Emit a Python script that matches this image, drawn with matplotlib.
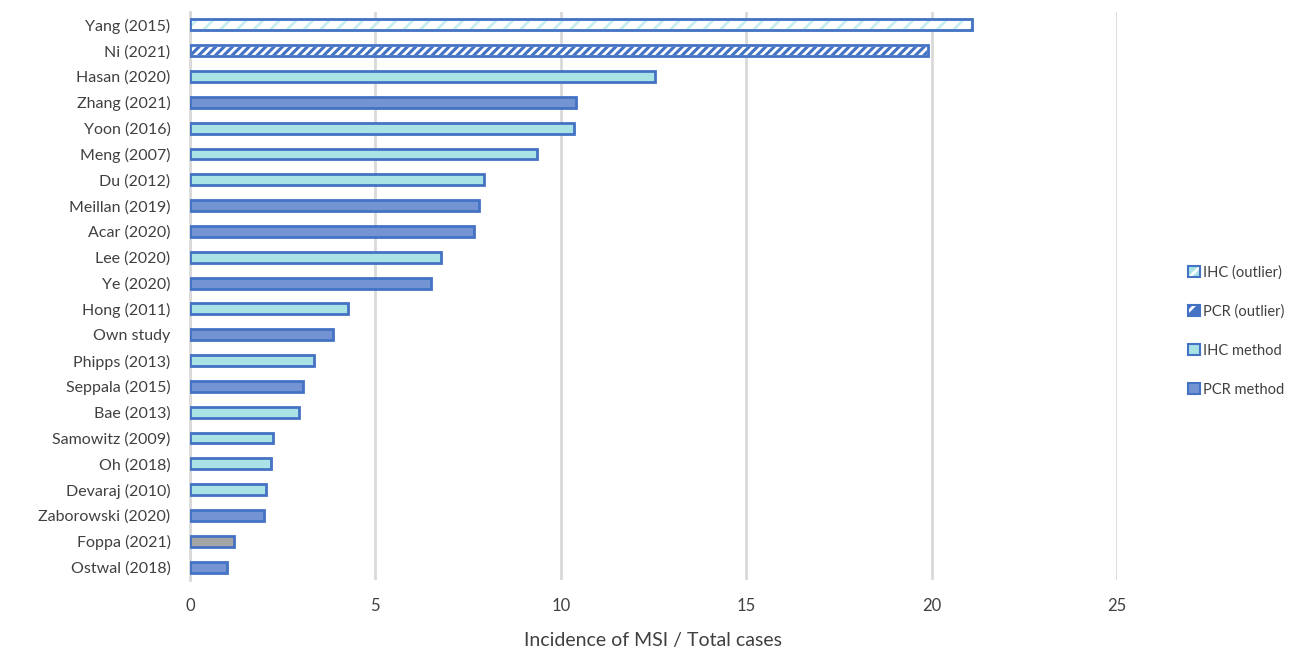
import matplotlib.pyplot as plt
from matplotlib.patches import Patch

studies = ['Yang (2015)', 'Ni (2021)', 'Hasan (2020)', 'Zhang (2021)', 'Yoon (2016)',
           'Meng (2007)', 'Du (2012)', 'Meillan (2019)', 'Acar (2020)', 'Lee (2020)',
           'Ye (2020)', 'Hong (2011)', 'Own study', 'Phipps (2013)', 'Seppala (2015)',
           'Bae (2013)', 'Samowitz (2009)', 'Oh (2018)', 'Devaraj (2010)',
           'Zaborowski (2020)', 'Foppa (2021)', 'Ostwal (2018)']
values = [21.1, 19.9, 12.55, 10.4, 10.35, 9.35, 7.93, 7.8, 7.66, 6.77, 6.5, 4.27,
          3.86, 3.34, 3.05, 2.95, 2.25, 2.18, 2.05, 2.0, 1.19, 1.0]
methods = ['IHC_out', 'PCR_out', 'IHC', 'PCR', 'IHC', 'IHC', 'IHC', 'PCR', 'PCR', 'IHC',
           'PCR', 'IHC', 'PCR', 'IHC', 'PCR', 'IHC', 'IHC', 'IHC', 'IHC', 'PCR', 'own', 'PCR']

edge = '#4472c4'
cyan = '#a9e3e6'
fills = {'IHC': cyan, 'PCR': '#7393d3', 'own': '#a5a5a5',
         'IHC_out': 'white', 'PCR_out': '#4472c4'}
txt = '#404040'

plt.rcParams['font.family'] = ['Lato', 'DejaVu Sans']
plt.rcParams['hatch.linewidth'] = 2.0

fig = plt.figure(figsize=(12.9, 6.52), dpi=100)
ax = fig.add_axes([190/1290, 1 - 580/652, (1117 - 190)/1290, (580 - 12)/652])

y = list(range(len(studies)))
for yi, v, m in zip(y, values, methods):
    b = ax.barh(yi, v, height=0.42, color=fills[m], edgecolor=edge, linewidth=2, zorder=3)
    if m in ('PCR_out', 'IHC_out'):
        b[0].set_hatch('////' if m == 'PCR_out' else '//')
        b[0].set_edgecolor('white' if m == 'PCR_out' else '#c6eef0')
        ax.barh(yi, v, height=0.42, color='none', edgecolor=edge, linewidth=2, zorder=4)

ax.set_xlim(0, 25)
ax.set_ylim(len(studies) - 0.5, -0.5)
ax.set_yticks(y)
ax.set_yticklabels(studies, fontsize=11.5, color=txt)
ax.set_xticks([0, 5, 10, 15, 20, 25])
ax.tick_params(axis='x', labelsize=12, labelcolor=txt, length=0, pad=13)
ax.tick_params(axis='y', length=0, pad=14)
ax.grid(axis='x', color='#d9d9d9', linewidth=2, zorder=0)
for s in ['top', 'right', 'bottom']:
    ax.spines[s].set_visible(False)
ax.spines['left'].set_color('#d9d9d9')
ax.spines['left'].set_linewidth(2)
ax.set_xlabel('Incidence of MSI / Total cases', fontsize=14, color=txt, labelpad=13)

def outlier_handle(fill, hatch_col):
    return (Patch(facecolor=fill, edgecolor=hatch_col, hatch='//', linewidth=0),
            Patch(facecolor='none', edgecolor=edge, linewidth=1.5))

handles = [
    outlier_handle(cyan, 'white'),
    outlier_handle('#4472c4', 'white'),
    Patch(facecolor=cyan, edgecolor=edge, linewidth=1.5),
    Patch(facecolor='#7393d3', edgecolor=edge, linewidth=1.5),
]
labels = ['IHC (outlier)', 'PCR (outlier)', 'IHC method', 'PCR method']
fig.legend(handles, labels, loc='center left', bbox_to_anchor=(1188/1290, 1 - 331/652),
           frameon=False, fontsize=10.5, handlelength=0.8, handleheight=0.8,
           handletextpad=0.25, labelspacing=1.7, labelcolor=txt, borderpad=0,
           borderaxespad=0)

fig.savefig('out.png', dpi=100)
